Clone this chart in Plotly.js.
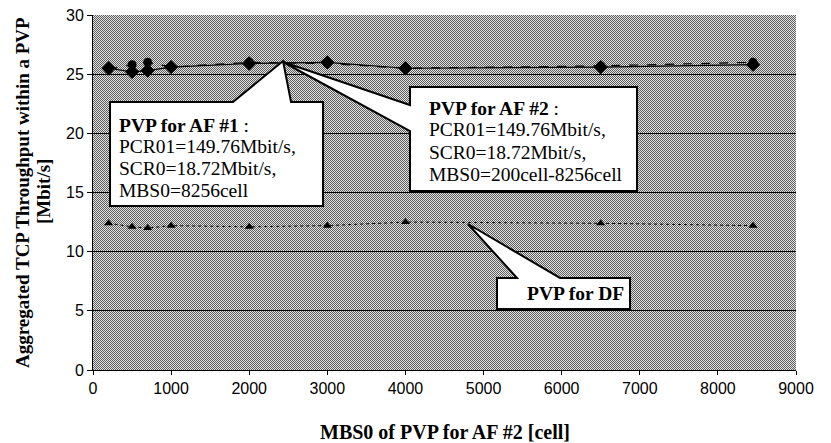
<!DOCTYPE html>
<html>
<head>
<meta charset="utf-8">
<script src="https://cdn.plot.ly/plotly-3.0.1.min.js"></script>
<style>html,body{margin:0;padding:0;background:#fff;}#chart{width:831px;height:443px;}</style>
</head>
<body>
<div id="chart"></div>
<script>
// ---- data ----
var mbs0 = [200, 500, 700, 1000, 2000, 3000, 4000, 6500, 8450];
var af1Throughput = [25.5, 25.2, 25.3, 25.6, 25.9, 26.0, 25.5, 25.6, 25.8];
var af2Throughput = [25.4, 25.8, 26.0, 25.6, 26.0, 25.9, 25.5, 25.7, 26.0];
var dfThroughput  = [12.4, 12.1, 12.0, 12.2, 12.1, 12.2, 12.5, 12.4, 12.2];
var xTickVals = [0, 1000, 2000, 3000, 4000, 5000, 6000, 7000, 8000, 9000];
var yTickVals = [0, 5, 10, 15, 20, 25, 30];
var xTitle = 'MBS0 of PVP for AF #2 [cell]';
var yTitle1 = 'Aggregated TCP Throughput within a PVP';
var yTitle2 = '[Mbit/s]';

// ---- layout geometry (pixels) ----
var L = 93, R = 796, T = 15, B = 370;
var W = R - L, H = B - T;
function px(x){ return +((x - L) / W).toFixed(4); }
function py(y){ return +((B - y) / H).toFixed(4); }
function poly(pts){
  return 'M' + pts.map(function(p){ return px(p[0]) + ',' + py(p[1]); }).join(' L') + ' Z';
}

var serif = 'Liberation Serif, Times New Roman, serif';
var sans = 'Liberation Sans, Arial, sans-serif';

var traces = [
  {x: mbs0, y: af1Throughput, type: 'scatter', mode: 'lines+markers',
   line: {color: '#000', width: 1.2}, marker: {symbol: 'diamond', size: 11, color: '#000'}},
  {x: mbs0, y: af2Throughput, type: 'scatter', mode: 'lines+markers',
   line: {color: '#000', width: 1.2, dash: 'dash'}, marker: {symbol: 'circle', size: 9, color: '#000'}},
  {x: mbs0, y: dfThroughput, type: 'scatter', mode: 'lines+markers',
   line: {color: '#000', width: 1, dash: 'dot'}, marker: {symbol: 'triangle-up', size: 8, color: '#000'}}
];

var shapes = [
  {type: 'path', xref: 'paper', yref: 'paper', layer: 'above',
   path: poly([[110,102],[233,102],[283,61],[291,102],[323,102],[323,206],[110,206]]),
   fillcolor: '#fff', line: {color: '#000', width: 2}},
  {type: 'path', xref: 'paper', yref: 'paper', layer: 'above',
   path: poly([[410,87],[637,87],[637,191],[410,191],[410,131],[283,62],[410,105]]),
   fillcolor: '#fff', line: {color: '#000', width: 2}},
  {type: 'path', xref: 'paper', yref: 'paper', layer: 'above',
   path: poly([[497,278],[517,278],[468,224],[560,278],[630,278],[630,309],[497,309]]),
   fillcolor: '#fff', line: {color: '#000', width: 2}}
];

function txt(x, y, s){
  return {xref: 'paper', yref: 'paper', x: px(x), y: py(y), text: s, showarrow: false,
          xanchor: 'left', yanchor: 'middle', align: 'left',
          font: {family: serif, size: 19.5, color: '#000'}};
}
var annotations = [
  txt(117, 125, '<b>PVP for AF #1</b> :'),
  txt(117, 147, 'PCR01=149.76Mbit/s,'),
  txt(117, 168, 'SCR0=18.72Mbit/s,'),
  txt(117, 190, 'MBS0=8256cell'),
  txt(427, 108, '<b>PVP for AF #2</b> :'),
  txt(427, 130, 'PCR01=149.76Mbit/s,'),
  txt(427, 153, 'SCR0=18.72Mbit/s,'),
  txt(427, 175, 'MBS0=200cell-8256cell'),
  txt(525, 294, '<b>PVP for DF</b>'),
  {xref: 'paper', yref: 'paper', x: px(445), y: py(432), text: '<b>' + xTitle + '</b>',
   showarrow: false, xanchor: 'center', yanchor: 'middle',
   font: {family: serif, size: 20, color: '#000'}},
  {xref: 'paper', yref: 'paper', x: px(22), y: py(192), text: '<b>' + yTitle1 + '</b>',
   showarrow: false, xanchor: 'center', yanchor: 'middle', textangle: -90,
   font: {family: serif, size: 19, color: '#000'}},
  {xref: 'paper', yref: 'paper', x: px(43), y: py(192), text: '<b>' + yTitle2 + '</b>',
   showarrow: false, xanchor: 'center', yanchor: 'middle', textangle: -90,
   font: {family: serif, size: 19, color: '#000'}}
];

var layout = {
  width: 831, height: 443,
  margin: {l: L, r: 831 - R, t: T, b: 443 - B, pad: 0},
  paper_bgcolor: '#fff', plot_bgcolor: '#a0a0a0',
  showlegend: false,
  xaxis: {range: [0, 9000], tickvals: xTickVals, showgrid: false, zeroline: false,
          showline: true, linecolor: '#000', linewidth: 1,
          ticks: 'outside', ticklen: 4, tickcolor: '#000',
          tickfont: {family: sans, size: 16, color: '#000'}},
  yaxis: {range: [0, 30], tickvals: yTickVals, showgrid: true, gridcolor: '#000', gridwidth: 1,
          zeroline: false, showline: true, linecolor: '#000', linewidth: 1,
          ticks: 'outside', ticklen: 5, tickcolor: '#000',
          tickfont: {family: sans, size: 16, color: '#000'}},
  shapes: shapes,
  annotations: annotations
};

Plotly.newPlot('chart', traces, layout, {staticPlot: true, displayModeBar: false}).then(function(gd){
  // halftone (dither) fill for the plotting area
  var svg = gd.querySelector('svg.main-svg');
  var ns = 'http://www.w3.org/2000/svg';
  var defs = svg.querySelector('defs') || svg.insertBefore(document.createElementNS(ns, 'defs'), svg.firstChild);
  var pat = document.createElementNS(ns, 'pattern');
  pat.setAttribute('id', 'dither');
  pat.setAttribute('patternUnits', 'userSpaceOnUse');
  pat.setAttribute('width', '2'); pat.setAttribute('height', '2');
  var cells = [[0,0,'#5c5c5c'],[1,0,'#e4e4e4'],[0,1,'#e4e4e4'],[1,1,'#5c5c5c']];
  cells.forEach(function(c){
    var r = document.createElementNS(ns, 'rect');
    r.setAttribute('x', c[0]); r.setAttribute('y', c[1]);
    r.setAttribute('width', '1'); r.setAttribute('height', '1');
    r.setAttribute('fill', c[2]);
    pat.appendChild(r);
  });
  defs.appendChild(pat);
  var bg = svg.querySelector('.bglayer rect.bg');
  if (bg) { bg.style.fill = 'url(#dither)'; }
});
</script>
</body>
</html>
